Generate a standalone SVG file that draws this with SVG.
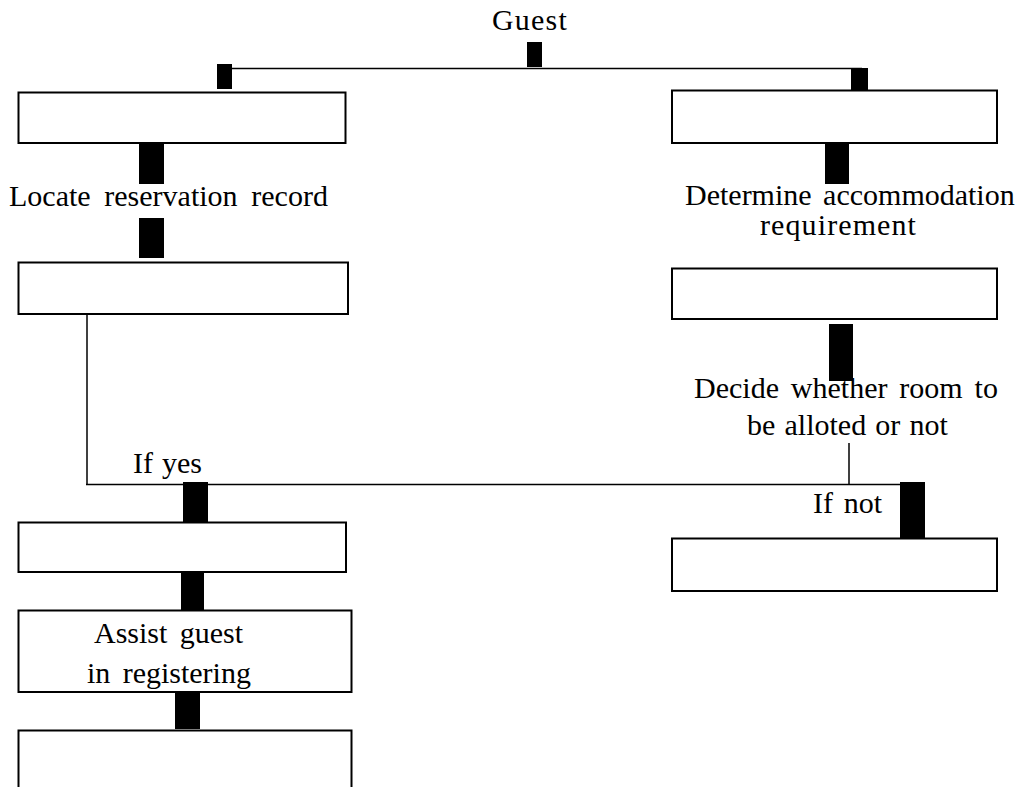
<svg xmlns="http://www.w3.org/2000/svg" width="1026" height="787" viewBox="0 0 1026 787">
  <style>
    .box { fill: #ffffff; stroke: #000000; stroke-width: 2; }
    .bar { fill: #000000; stroke: none; }
    .wire { fill: none; stroke: #000000; stroke-width: 1.5; }
    .lbl { font-family: 'Liberation Serif', 'Times New Roman', serif; font-size: 30px; fill: #000000; }
  </style>
  <rect width="1026" height="787" fill="#ffffff"/>

  <!-- connecting lines and solid bars between steps -->
  <g id="connectors">
    <line class="wire" x1="232" y1="68.5" x2="862" y2="68.5"/>
    <line class="wire" x1="87" y1="312" x2="87" y2="484"/>
    <line class="wire" x1="86" y1="484.5" x2="902" y2="484.5"/>
    <line class="wire" x1="849" y1="443" x2="849" y2="484"/>
    <rect class="bar" x="527" y="42" width="15" height="25"/>
    <rect class="bar" x="217" y="64" width="15" height="25"/>
    <rect class="bar" x="851" y="68" width="17" height="25"/>
    <rect class="bar" x="139" y="144" width="25" height="40"/>
    <rect class="bar" x="139" y="218" width="25" height="40"/>
    <rect class="bar" x="825" y="144" width="24" height="40"/>
    <rect class="bar" x="829" y="324" width="24" height="57"/>
    <rect class="bar" x="183" y="482" width="25" height="40"/>
    <rect class="bar" x="900" y="482" width="25" height="56"/>
    <rect class="bar" x="181" y="572" width="23" height="41"/>
    <rect class="bar" x="175" y="688" width="25" height="41"/>
  </g>

  <g id="guest">
    <text class="lbl" x="492" y="30" letter-spacing="1.2">Guest</text>
  </g>

  <g id="box-left-1">
    <rect class="box" x="18.5" y="92.5" width="327" height="50.5"/>
  </g>
  <g id="locate-record">
    <text class="lbl" x="9" y="206" word-spacing="6.2">Locate reservation record</text>
  </g>
  <g id="box-left-2">
    <rect class="box" x="18.5" y="262.5" width="329.5" height="51.5"/>
  </g>
  <g id="if-yes">
    <text class="lbl" x="133" y="473" word-spacing="1.5">If yes</text>
  </g>
  <g id="box-left-3">
    <rect class="box" x="18.5" y="522.5" width="327.5" height="49.5"/>
  </g>
  <g id="assist-guest">
    <rect class="box" x="18.5" y="610.5" width="333" height="81.5"/>
    <text class="lbl" x="94" y="643" word-spacing="4.8">Assist guest</text>
    <text class="lbl" x="87" y="683" word-spacing="4.8">in registering</text>
  </g>
  <g id="box-left-4">
    <rect class="box" x="18.5" y="730.5" width="333" height="100"/>
  </g>

  <g id="box-right-1">
    <rect class="box" x="672" y="90.5" width="325" height="52.5"/>
  </g>
  <g id="determine-requirement">
    <text class="lbl" x="685" y="205" word-spacing="4">Determine accommodation</text>
    <text class="lbl" x="760" y="235" letter-spacing="1.1">requirement</text>
  </g>
  <g id="box-right-2">
    <rect class="box" x="672" y="268.5" width="325" height="50.5"/>
  </g>
  <g id="decide-allot">
    <text class="lbl" x="694" y="398" word-spacing="4.4">Decide whether room to</text>
    <text class="lbl" x="747" y="435" word-spacing="1.7">be alloted or not</text>
  </g>
  <g id="if-not">
    <text class="lbl" x="813" y="513" word-spacing="3.2">If not</text>
  </g>
  <g id="box-right-3">
    <rect class="box" x="672" y="538.5" width="325" height="52.5"/>
  </g>
</svg>
